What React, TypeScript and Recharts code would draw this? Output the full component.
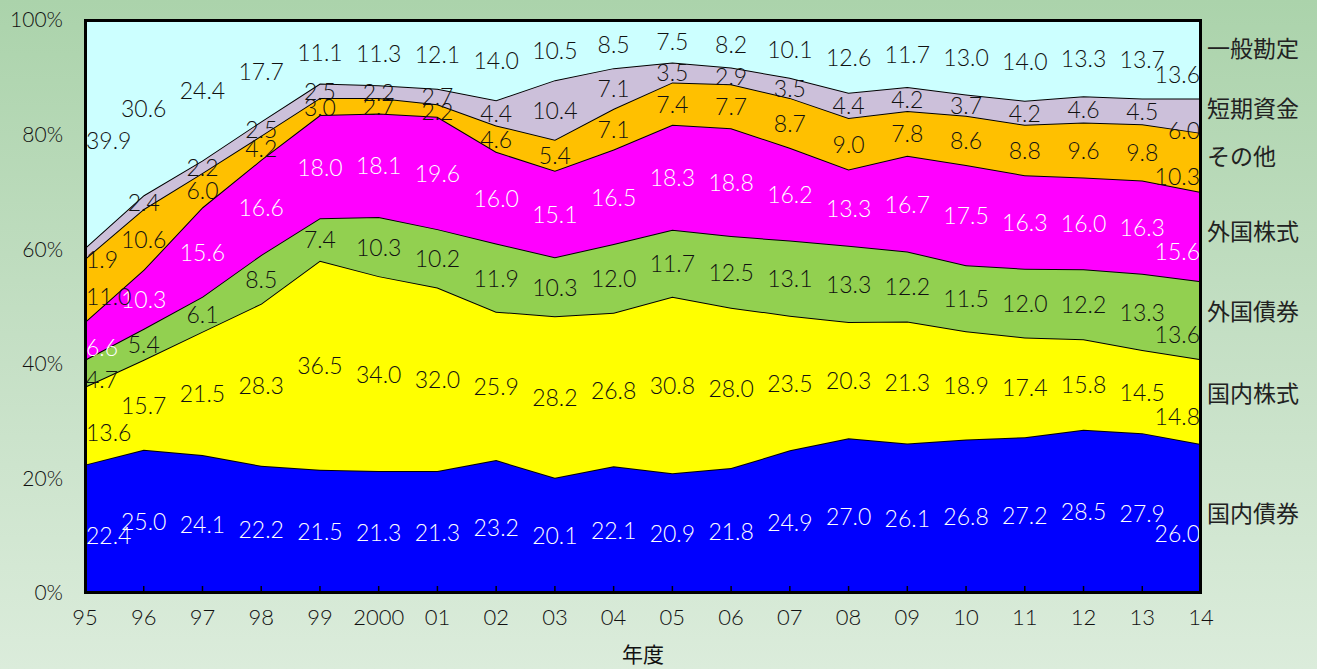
import React from "react";
import { AreaChart, Area, XAxis, YAxis, LabelList } from "recharts";

// 年度ラベル
const YEARS = [
  "95", "96", "97", "98", "99", "2000", "01", "02", "03", "04",
  "05", "06", "07", "08", "09", "10", "11", "12", "13", "14",
];

// 資産構成比 (%)
const DOMESTIC_BONDS = [22.4, 25.0, 24.1, 22.2, 21.5, 21.3, 21.3, 23.2, 20.1, 22.1, 20.9, 21.8, 24.9, 27.0, 26.1, 26.8, 27.2, 28.5, 27.9, 26.0];
const DOMESTIC_STOCKS = [13.6, 15.7, 21.5, 28.3, 36.5, 34.0, 32.0, 25.9, 28.2, 26.8, 30.8, 28.0, 23.5, 20.3, 21.3, 18.9, 17.4, 15.8, 14.5, 14.8];
const FOREIGN_BONDS = [4.7, 5.4, 6.1, 8.5, 7.4, 10.3, 10.2, 11.9, 10.3, 12.0, 11.7, 12.5, 13.1, 13.3, 12.2, 11.5, 12.0, 12.2, 13.3, 13.6];
const FOREIGN_STOCKS = [6.6, 10.3, 15.6, 16.6, 18.0, 18.1, 19.6, 16.0, 15.1, 16.5, 18.3, 18.8, 16.2, 13.3, 16.7, 17.5, 16.3, 16.0, 16.3, 15.6];
const OTHERS = [11.0, 10.6, 6.0, 4.2, 3.0, 2.7, 2.2, 4.6, 5.4, 7.1, 7.4, 7.7, 8.7, 9.0, 7.8, 8.6, 8.8, 9.6, 9.8, 10.3];
const SHORT_TERM = [1.9, 2.4, 2.2, 2.5, 2.5, 2.2, 2.7, 4.4, 10.4, 7.1, 3.5, 2.9, 3.5, 4.4, 4.2, 3.7, 4.2, 4.6, 4.5, 6.0];
const GENERAL_ACCOUNT = [39.9, 30.6, 24.4, 17.7, 11.1, 11.3, 12.1, 14.0, 10.5, 8.5, 7.5, 8.2, 10.1, 12.6, 11.7, 13.0, 14.0, 13.3, 13.7, 13.6];

const Y_TICKS = [0, 20, 40, 60, 80, 100];

// bottom to top of the stack
const SERIES = [
  { key: "domBond", name: "国内債券", values: DOMESTIC_BONDS, fill: "#0000FF", text: "#FFFFFF" },
  { key: "domStock", name: "国内株式", values: DOMESTIC_STOCKS, fill: "#FFFF00", text: "#111111" },
  { key: "forBond", name: "外国債券", values: FOREIGN_BONDS, fill: "#92D050", text: "#111111" },
  { key: "forStock", name: "外国株式", values: FOREIGN_STOCKS, fill: "#FF00FF", text: "#FFFFFF" },
  { key: "other", name: "その他", values: OTHERS, fill: "#FFC000", text: "#111111" },
  { key: "short", name: "短期資金", values: SHORT_TERM, fill: "#CCC0DA", text: "#111111" },
  { key: "general", name: "一般勘定", values: GENERAL_ACCOUNT, fill: "#CCFFFF", text: "#111111" },
];

const data = YEARS.map((year, i) => {
  const row: Record<string, string | number> = { year };
  SERIES.forEach((s) => {
    row[s.key] = s.values[i];
  });
  return row;
});

const W = 1317;
const H = 669;
const MARGIN = { top: 20, right: 116, bottom: 0, left: 15 };
const Y_AXIS_W = 70;
const X_AXIS_H = 76;
const PLOT_W = W - MARGIN.left - MARGIN.right - Y_AXIS_W;
const PLOT_H = H - MARGIN.top - MARGIN.bottom - X_AXIS_H;
const PX_PER_PCT = PLOT_H / 100;

// right-hand series names, top offsets in px
const NAME_TOPS = [47, 107, 155, 230, 310, 392, 512];

const NUM_FONT = "Lato, 'Noto Sans', sans-serif";
const JP_FONT = "'Noto Sans CJK JP', 'Noto Sans', sans-serif";

const makeBandLabel = (values: number[], color: string) => (props: any) => {
  const { x, y, index } = props;
  const v = values[index];
  const last = index === values.length - 1;
  const first = index === 0;
  let anchor: "start" | "middle" | "end" = "middle";
  let lx = x;
  let dy = 0;
  if (first) {
    anchor = "start";
    lx = x + 1;
    dy = 6;
  } else if (last) {
    anchor = "end";
    lx = x - 1;
    dy = 14;
  }
  return (
    <text
      x={lx}
      y={y + (v * PX_PER_PCT) / 2 + dy}
      textAnchor={anchor}
      dominantBaseline="central"
      fontSize={23}
      fontWeight={300}
      fontFamily={NUM_FONT}
      fill={color}
    >
      {v.toFixed(1)}
    </text>
  );
};

const YearTick = ({ x, y, payload }: any) => (
  <g>
    <line x1={x} x2={x} y1={y} y2={y - 7} stroke="#000" strokeWidth={1.5} />
    <text
      x={x}
      y={y + 32}
      textAnchor="middle"
      fontSize={22}
      fontWeight={300}
      fontFamily={NUM_FONT}
      fill="#111"
    >
      {payload.value}
    </text>
  </g>
);

export default function App() {
  return (
    <div
      style={{
        position: "absolute",
        left: 0,
        top: 0,
        width: W,
        height: H,
        background: "linear-gradient(180deg, #abd3ab 0%, #c4dfc4 50%, #dbecdb 100%)",
        overflow: "hidden",
      }}
    >
      <AreaChart width={W} height={H} data={data} margin={MARGIN}>
        <XAxis
          dataKey="year"
          interval={0}
          height={X_AXIS_H}
          axisLine={false}
          tickLine={false}
          tickSize={0}
          tickMargin={0}
          tick={<YearTick />}
          label={{
            value: "年度",
            position: "insideBottom",
            offset: 7,
            fontSize: 21,
            fontFamily: JP_FONT,
            fill: "#111",
          }}
        />
        <YAxis
          width={Y_AXIS_W}
          domain={[0, 100]}
          ticks={Y_TICKS}
          allowDataOverflow
          axisLine={false}
          tickLine={false}
          tickSize={0}
          tickMargin={22}
          tickFormatter={(v: number) => `${v}%`}
          tick={{ fontSize: 21, fontWeight: 300, fontFamily: NUM_FONT, fill: "#111" }}
        />
        {SERIES.map((s) => (
          <Area
            key={s.key}
            type="linear"
            dataKey={s.key}
            name={s.name}
            stackId="1"
            fill={s.fill}
            fillOpacity={1}
            stroke="#000"
            strokeWidth={2}
            isAnimationActive={false}
            dot={false}
            activeDot={false}
          >
            <LabelList dataKey={s.key} content={makeBandLabel(s.values, s.text)} />
          </Area>
        ))}
      </AreaChart>
      {/* plot frame */}
      <div
        style={{
          position: "absolute",
          boxSizing: "border-box",
          left: MARGIN.left + Y_AXIS_W - 1,
          top: MARGIN.top - 1,
          width: PLOT_W + 2,
          height: PLOT_H + 2,
          border: "3px solid #000",
          pointerEvents: "none",
          zIndex: 5,
        }}
      />
      {[...SERIES].reverse().map((s, i) => (
        <div
          key={s.key}
          style={{
            position: "absolute",
            left: 1207,
            top: NAME_TOPS[i] - 14,
            fontSize: 23,
            lineHeight: "28px",
            fontFamily: JP_FONT,
            color: "#222",
            whiteSpace: "nowrap",
          }}
        >
          {s.name}
        </div>
      ))}
    </div>
  );
}
